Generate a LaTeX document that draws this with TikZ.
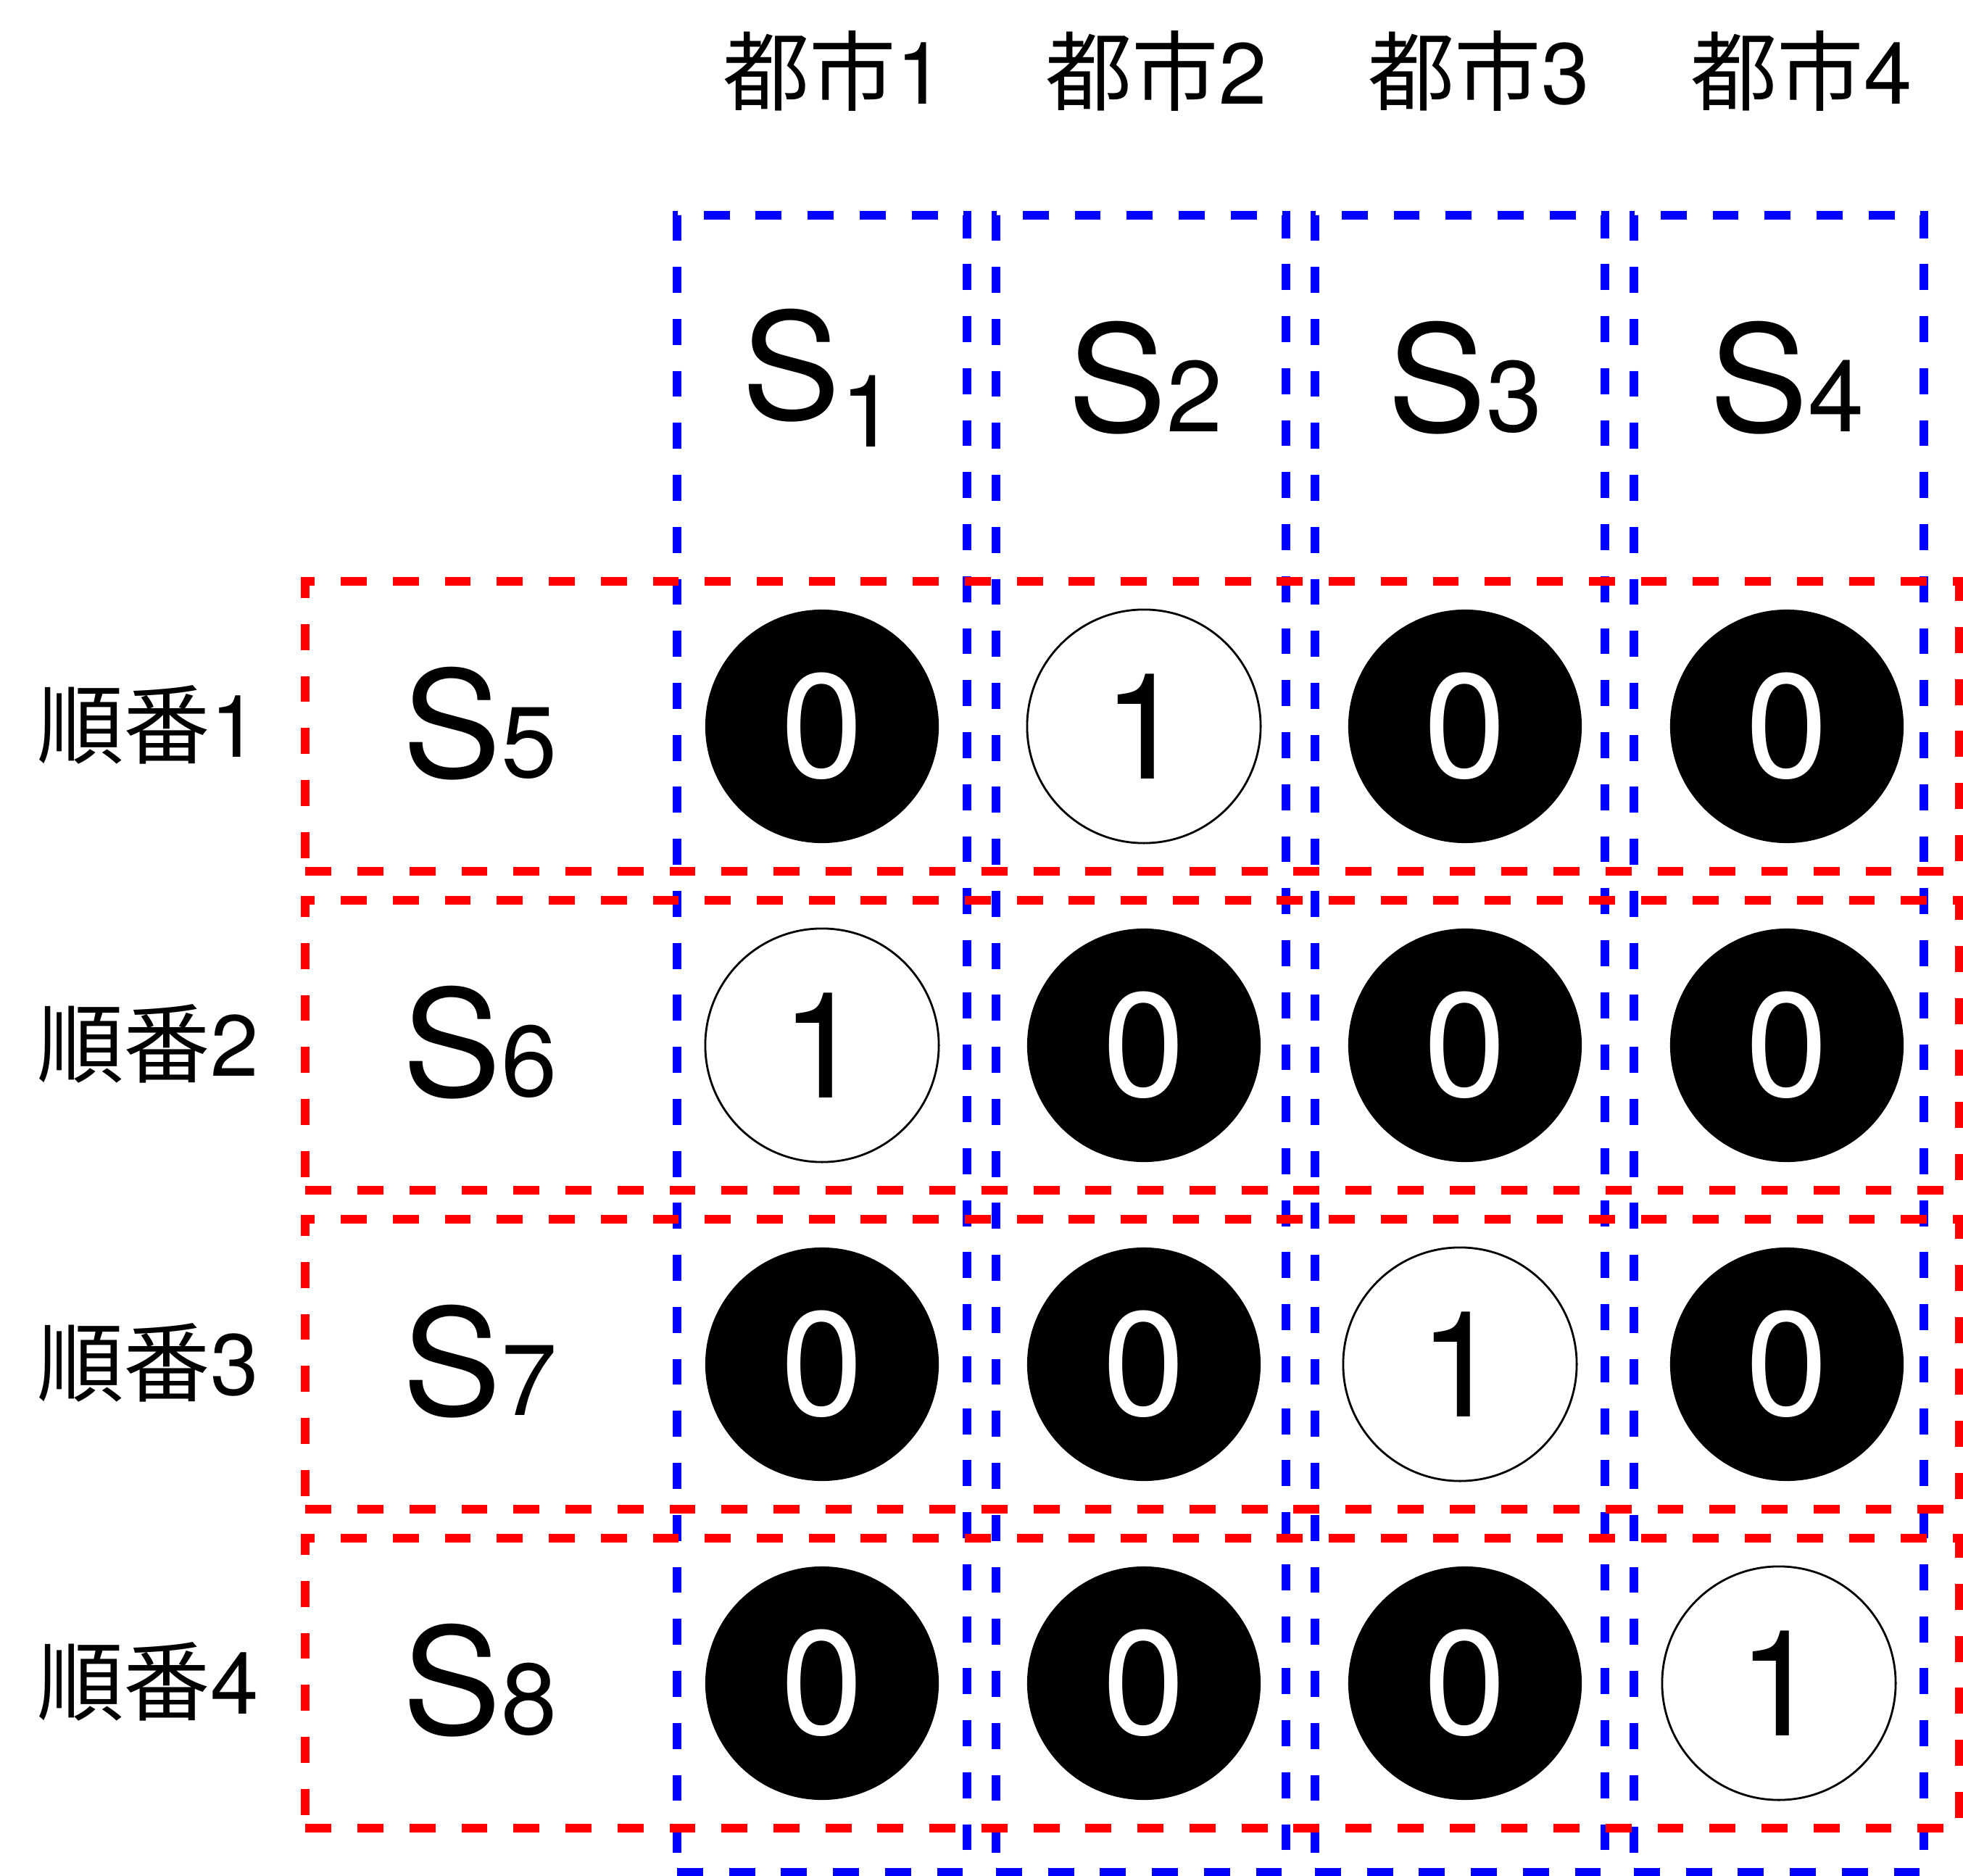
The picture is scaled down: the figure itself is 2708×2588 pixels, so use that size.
\documentclass[tikz,border=0pt]{standalone}
\usepackage{fontspec}
\setmainfont{TeX Gyre Heros}
\newfontfamily\jpfont{Noto Sans CJK JP}
\usetikzlibrary{positioning}
\definecolor{colblue}{RGB}{0,0,255}
\definecolor{rowred}{RGB}{255,0,0}
\newcommand{\subdig}[1]{{\fontsize{39.5}{40}\selectfont #1}}

\begin{document}
\begin{tikzpicture}[
  x=0.01cm, y=-0.01cm,
  every node/.style={inner sep=0pt, outer sep=0pt},
  colbox/.style={draw=colblue, line width=3.4pt, dash pattern=on 10.2pt off 10.2pt,
                 minimum width=4cm, minimum height=22.84cm},
  rowbox/.style={draw=rowred, line width=3.4pt, dash pattern=on 10.2pt off 10.2pt,
                 minimum width=22.8cm, minimum height=4cm},
  bit/.style={circle, minimum size=3.22cm, font=\fontsize{58}{60}\selectfont},
  zero/.style={bit, fill=black, text=white},
  one/.style={bit, fill=white, draw=black, line width=0.8pt},
  sname/.style={font=\fontsize{58}{60}\selectfont, anchor=base},
  head/.style={font=\fontsize{34}{36}\selectfont, anchor=base},
]
\useasboundingbox (0,0) rectangle (2708,2588);

% --- City columns ---
\node[colbox] (col1) at (1134,1440) {};
\node[colbox] (col2) at (1574,1440) {};
\node[colbox] (col3) at (2014,1440) {};
\node[colbox] (col4) at (2454,1440) {};

% --- Order rows ---
\node[rowbox] (row1) at (1562,1002) {};
\node[rowbox] (row2) at (1562,1442) {};
\node[rowbox] (row3) at (1562,1882) {};
\node[rowbox] (row4) at (1562,2322) {};

% --- Headings ---
\node[head] (city1) at (1150,144) {{\jpfont 都市}1};
\node[head] (city2) at (1595,144) {{\jpfont 都市}2};
\node[head] (city3) at (2040,144) {{\jpfont 都市}3};
\node[head] (city4) at (2485,144) {{\jpfont 都市}4};
\node[head] (ord1) at (204,1044) {{\jpfont 順番}1};
\node[head] (ord2) at (204,1484) {{\jpfont 順番}2};
\node[head] (ord3) at (204,1924) {{\jpfont 順番}3};
\node[head] (ord4) at (204,2364) {{\jpfont 順番}4};

% --- Variable names ---
\node[sname] (s1) at (1130,578) {S\raisebox{-0.38cm}{\subdig{1}}};
\node[sname] (s2) at (1580,595) {S\subdig{2}};
\node[sname] (s3) at (2021,595) {S\subdig{3}};
\node[sname] (s4) at (2465,595) {S\subdig{4}};
\node[sname] (s5) at (662,1072) {S\subdig{5}};
\node[sname] (s6) at (662,1512) {S\subdig{6}};
\node[sname] (s7) at (662,1952) {S\subdig{7}};
\node[sname] (s8) at (662,2392) {S\subdig{8}};

% --- Cell values ---
\node[zero] (b11) at (1134,1002) {0};
\node[one]  (b12) at (1578,1002) {1};
\node[zero] (b13) at (2021,1002) {0};
\node[zero] (b14) at (2465,1002) {0};

\node[one]  (b21) at (1134,1442) {1};
\node[zero] (b22) at (1578,1442) {0};
\node[zero] (b23) at (2021,1442) {0};
\node[zero] (b24) at (2465,1442) {0};

\node[zero] (b31) at (1134,1882) {0};
\node[zero] (b32) at (1578,1882) {0};
\node[one]  (b33) at (2014,1882) {1};
\node[zero] (b34) at (2465,1882) {0};

\node[zero] (b41) at (1134,2322) {0};
\node[zero] (b42) at (1578,2322) {0};
\node[zero] (b43) at (2021,2322) {0};
\node[one]  (b44) at (2454,2322) {1};

\end{tikzpicture}
\end{document}
